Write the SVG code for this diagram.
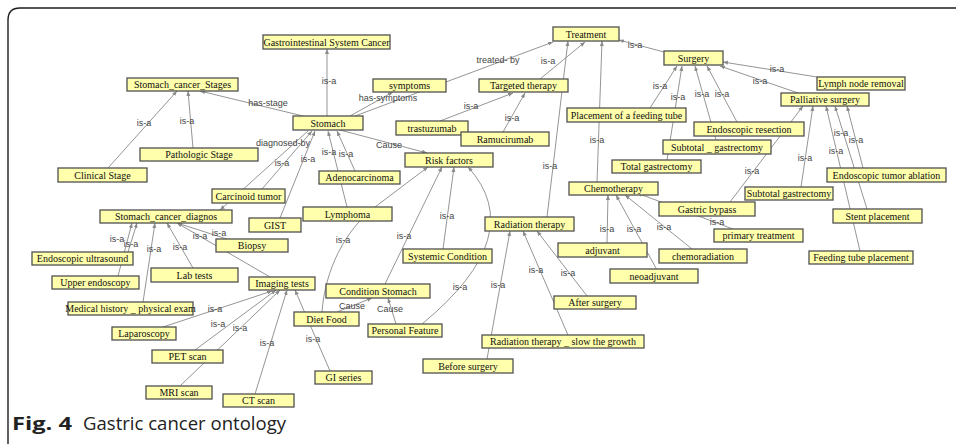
<svg xmlns="http://www.w3.org/2000/svg" width="956" height="444" viewBox="0 0 956 444">
  <defs>
    <marker id="arr" viewBox="0 0 10 10" refX="10" refY="5" markerWidth="5" markerHeight="5" markerUnits="userSpaceOnUse" orient="auto">
      <path d="M0,1 L10,5 L0,9 Z" fill="#8a8a8a"/>
    </marker>
    <style>
      .frame { fill: none; stroke: #1e1e1e; stroke-width: 1.4; }
      .e { fill: none; stroke: #959595; stroke-width: 1; marker-end: url(#arr); }
      .lbl { font-family: "Liberation Sans", Arial, sans-serif; font-size: 9px; fill: #444; text-anchor: middle; }
      .node rect { fill: #ffffac; stroke: #505050; stroke-width: 1.3; }
      .node text { font-family: "Liberation Serif", "Times New Roman", serif; font-size: 10px; fill: #111; text-anchor: middle; }
      .cap { font-family: "Open Sans", "Noto Sans", sans-serif; font-size: 18px; fill: #222; }
    </style>
  </defs>

  <!-- figure frame -->
  <path class="frame" d="M8,444 V20 Q8,8 20,8 H956"/>

  <!-- connectors -->
  <g id="connectors">
    <path class="e" d="M327,116 L327,49"/>
    <path class="e" d="M303,116 L200,91"/>
    <path class="e" d="M193,148 L188,91"/>
    <path class="e" d="M108,168 L177,91"/>
    <path class="e" d="M350,116 L393,92"/>
    <path class="e" d="M355,116 L553,42"/>
    <path class="e" d="M340,130 L427,153"/>
    <path class="e" d="M262,189 L312,131"/>
    <path class="e" d="M308,131 L220,210"/>
    <path class="e" d="M280,218 L315,131"/>
    <path class="e" d="M347,207 L328,131"/>
    <path class="e" d="M355,171 L337,131"/>
    <path class="e" d="M385,284 L442,167"/>
    <path class="e" d="M443,249 L454,167"/>
    <path class="e" d="M422,324 Q530,235 468,167"/>
    <path class="e" d="M322,312 C325,270 345,230 375,207 L428,167"/>
    <path class="e" d="M337,312 L372,298"/>
    <path class="e" d="M396,324 L388,298"/>
    <path class="e" d="M118,276 L132,223"/>
    <path class="e" d="M128,252 L137,223"/>
    <path class="e" d="M143,302 L155,223"/>
    <path class="e" d="M193,268 L167,223"/>
    <path class="e" d="M227,239 L177,223"/>
    <path class="e" d="M270,277 L177,223"/>
    <path class="e" d="M163,327 L272,291"/>
    <path class="e" d="M195,350 L276,290"/>
    <path class="e" d="M180,386 L280,290"/>
    <path class="e" d="M255,394 L287,290"/>
    <path class="e" d="M330,371 L295,290"/>
    <path class="e" d="M540,79 L585,42"/>
    <path class="e" d="M547,217 L568,41"/>
    <path class="e" d="M597,182 L602,41"/>
    <path class="e" d="M664,52 L619,40"/>
    <path class="e" d="M440,121 L513,93"/>
    <path class="e" d="M503,132 L525,93"/>
    <path class="e" d="M650,108 L677,66"/>
    <path class="e" d="M667,160 L682,66"/>
    <path class="e" d="M716,140 L695,66"/>
    <path class="e" d="M737,122 L707,66"/>
    <path class="e" d="M798,93 L720,66"/>
    <path class="e" d="M817,77 L723,62"/>
    <path class="e" d="M730,202 L803,106"/>
    <path class="e" d="M801,187 L813,106"/>
    <path class="e" d="M860,251 L826,106"/>
    <path class="e" d="M867,209 L835,106"/>
    <path class="e" d="M863,168 L847,106"/>
    <path class="e" d="M607,243 L608,195"/>
    <path class="e" d="M657,270 L616,195"/>
    <path class="e" d="M692,249 L625,195"/>
    <path class="e" d="M733,229 L637,193"/>
    <path class="e" d="M487,359 L510,231"/>
    <path class="e" d="M568,335 L523,231"/>
    <path class="e" d="M587,296 L537,231"/>

    <!-- connector labels -->
    <text class="lbl" x="329" y="84">is-a</text>
    <text class="lbl" x="268" y="106">has-stage</text>
    <text class="lbl" x="187" y="124">is-a</text>
    <text class="lbl" x="144" y="126">is-a</text>
    <text class="lbl" x="388" y="101">has-symptoms</text>
    <text class="lbl" x="498" y="63">treated- by</text>
    <text class="lbl" x="389" y="148">Cause</text>
    <text class="lbl" x="282" y="166">is-a</text>
    <text class="lbl" x="283" y="146">diagnosed-by</text>
    <text class="lbl" x="308" y="162">is-a</text>
    <text class="lbl" x="329" y="155">is-a</text>
    <text class="lbl" x="346" y="157">is-a</text>
    <text class="lbl" x="404" y="239">is-a</text>
    <text class="lbl" x="447" y="219">is-a</text>
    <text class="lbl" x="460" y="290">is-a</text>
    <text class="lbl" x="343" y="243">is-a</text>
    <text class="lbl" x="352" y="309">Cause</text>
    <text class="lbl" x="390" y="312">Cause</text>
    <text class="lbl" x="117" y="242">is-a</text>
    <text class="lbl" x="131" y="247">is-a</text>
    <text class="lbl" x="154" y="252">is-a</text>
    <text class="lbl" x="180" y="250">is-a</text>
    <text class="lbl" x="200" y="239">is-a</text>
    <text class="lbl" x="219" y="236">is-a</text>
    <text class="lbl" x="215" y="312">is-a</text>
    <text class="lbl" x="218" y="327">is-a</text>
    <text class="lbl" x="240" y="331">is-a</text>
    <text class="lbl" x="267" y="346">is-a</text>
    <text class="lbl" x="313" y="342">is-a</text>
    <text class="lbl" x="548" y="64">is-a</text>
    <text class="lbl" x="550" y="169">is-a</text>
    <text class="lbl" x="597" y="143">is-a</text>
    <text class="lbl" x="635" y="48">is-a</text>
    <text class="lbl" x="471" y="109">is-a</text>
    <text class="lbl" x="512" y="121">is-a</text>
    <text class="lbl" x="660" y="89">is-a</text>
    <text class="lbl" x="678" y="100">is-a</text>
    <text class="lbl" x="702" y="97">is-a</text>
    <text class="lbl" x="722" y="97">is-a</text>
    <text class="lbl" x="760" y="84">is-a</text>
    <text class="lbl" x="777" y="72">is-a</text>
    <text class="lbl" x="752" y="174">is-a</text>
    <text class="lbl" x="805" y="161">is-a</text>
    <text class="lbl" x="836" y="154">is-a</text>
    <text class="lbl" x="841" y="136">is-a</text>
    <text class="lbl" x="856" y="143">is-a</text>
    <text class="lbl" x="607" y="232">is-a</text>
    <text class="lbl" x="634" y="232">is-a</text>
    <text class="lbl" x="664" y="230">is-a</text>
    <text class="lbl" x="717" y="225">is-a</text>
    <text class="lbl" x="498" y="288">is-a</text>
    <text class="lbl" x="536" y="273">is-a</text>
    <text class="lbl" x="568" y="276">is-a</text>
  </g>

  <!-- concept nodes -->
  <g id="gi-system-cancer" class="node"><rect x="263" y="35" width="127" height="14"/><text x="326.5" y="45.5">Gastrointestinal System Cancer</text></g>
  <g id="stomach-cancer-stages" class="node"><rect x="127" y="78" width="111" height="13"/><text x="182.5" y="88">Stomach_cancer_Stages</text></g>
  <g id="pathologic-stage" class="node"><rect x="140" y="148" width="118" height="13"/><text x="199" y="158">Pathologic Stage</text></g>
  <g id="clinical-stage" class="node"><rect x="58" y="168" width="89" height="14"/><text x="102.5" y="178.5">Clinical Stage</text></g>
  <g id="stomach" class="node"><rect x="293" y="116" width="70" height="14"/><text x="328" y="126.5">Stomach</text></g>
  <g id="carcinoid-tumor" class="node"><rect x="212" y="189" width="73" height="14"/><text x="248.5" y="199.5">Carcinoid tumor</text></g>
  <g id="stomach-cancer-diagnos" class="node"><rect x="100" y="210" width="132" height="13"/><text x="166" y="220">Stomach_cancer_diagnos</text></g>
  <g id="gist" class="node"><rect x="249" y="218" width="52" height="14"/><text x="275" y="228.5">GIST</text></g>
  <g id="adenocarcinoma" class="node"><rect x="319" y="171" width="81" height="13"/><text x="359.5" y="181">Adenocarcinoma</text></g>
  <g id="lymphoma" class="node"><rect x="303" y="207" width="89" height="14"/><text x="347.5" y="217.5">Lymphoma</text></g>
  <g id="risk-factors" class="node"><rect x="405" y="153" width="88" height="14"/><text x="449" y="163.5">Risk factors</text></g>
  <g id="symptoms" class="node"><rect x="373" y="79" width="73" height="13"/><text x="409.5" y="89">symptoms</text></g>
  <g id="targeted-therapy" class="node"><rect x="479" y="79" width="89" height="13"/><text x="523.5" y="89">Targeted therapy</text></g>
  <g id="treatment" class="node"><rect x="553" y="27" width="66" height="14"/><text x="586" y="37.5">Treatment</text></g>
  <g id="trastuzumab" class="node"><rect x="396" y="121" width="72" height="14"/><text x="432" y="131.5">trastuzumab</text></g>
  <g id="ramucirumab" class="node"><rect x="461" y="132" width="88" height="14"/><text x="505" y="142.5">Ramucirumab</text></g>
  <g id="feeding-tube-placement-a" class="node"><rect x="567" y="108" width="119" height="14"/><text x="626.5" y="118.5">Placement of a feeding tube</text></g>
  <g id="chemotherapy" class="node"><rect x="569" y="182" width="89" height="13"/><text x="613.5" y="192">Chemotherapy</text></g>
  <g id="total-gastrectomy" class="node"><rect x="612" y="160" width="89" height="13"/><text x="656.5" y="170">Total gastrectomy</text></g>
  <g id="subtotal-gastrectomy-a" class="node"><rect x="663" y="140" width="108" height="14"/><text x="717" y="150.5">Subtotal _ gastrectomy</text></g>
  <g id="endoscopic-resection" class="node"><rect x="694" y="122" width="110" height="14"/><text x="749" y="132.5">Endoscopic resection</text></g>
  <g id="surgery" class="node"><rect x="664" y="51" width="59" height="14"/><text x="693.5" y="61.5">Surgery</text></g>
  <g id="lymph-node-removal" class="node"><rect x="817" y="77" width="88" height="13"/><text x="861" y="87">Lymph node removal</text></g>
  <g id="palliative-surgery" class="node"><rect x="781" y="93" width="88" height="13"/><text x="825" y="103">Palliative surgery</text></g>
  <g id="endoscopic-tumor-ablation" class="node"><rect x="827" y="168" width="119" height="14"/><text x="886.5" y="178.5">Endoscopic tumor ablation</text></g>
  <g id="subtotal-gastrectomy-b" class="node"><rect x="745" y="187" width="88" height="13"/><text x="789" y="197">Subtotal gastrectomy</text></g>
  <g id="gastric-bypass" class="node"><rect x="659" y="202" width="96" height="14"/><text x="707" y="212.5">Gastric bypass</text></g>
  <g id="stent-placement" class="node"><rect x="833" y="209" width="89" height="14"/><text x="877.5" y="219.5">Stent placement</text></g>
  <g id="primary-treatment" class="node"><rect x="714" y="229" width="89" height="13"/><text x="758.5" y="239">primary treatment</text></g>
  <g id="chemoradiation" class="node"><rect x="659" y="249" width="88" height="14"/><text x="703" y="259.5">chemoradiation</text></g>
  <g id="neoadjuvant" class="node"><rect x="610" y="269" width="88" height="14"/><text x="654" y="279.5">neoadjuvant</text></g>
  <g id="feeding-tube-placement-b" class="node"><rect x="809" y="251" width="104" height="13"/><text x="861" y="261">Feeding tube placement</text></g>
  <g id="adjuvant" class="node"><rect x="558" y="243" width="89" height="14"/><text x="602.5" y="253.5">adjuvant</text></g>
  <g id="radiation-therapy" class="node"><rect x="485" y="217" width="89" height="14"/><text x="529.5" y="227.5">Radiation therapy</text></g>
  <g id="systemic-condition" class="node"><rect x="403" y="249" width="89" height="14"/><text x="447.5" y="259.5">Systemic Condition</text></g>
  <g id="condition-stomach" class="node"><rect x="326" y="284" width="104" height="14"/><text x="378" y="294.5">Condition Stomach</text></g>
  <g id="personal-feature" class="node"><rect x="368" y="324" width="74" height="13"/><text x="405" y="334">Personal Feature</text></g>
  <g id="after-surgery" class="node"><rect x="554" y="296" width="82" height="13"/><text x="595" y="306">After surgery</text></g>
  <g id="radiation-slow-growth" class="node"><rect x="482" y="335" width="162" height="13"/><text x="563" y="345">Radiation therapy _ slow the growth</text></g>
  <g id="before-surgery" class="node"><rect x="423" y="359" width="90" height="14"/><text x="468" y="369.5">Before surgery</text></g>
  <g id="diet-food" class="node"><rect x="294" y="312" width="65" height="14"/><text x="326.5" y="322.5">Diet Food</text></g>
  <g id="gi-series" class="node"><rect x="315" y="371" width="57" height="13"/><text x="343.5" y="381">GI series</text></g>
  <g id="imaging-tests" class="node"><rect x="249" y="277" width="66" height="13"/><text x="282" y="287">Imaging tests</text></g>
  <g id="biopsy" class="node"><rect x="216" y="239" width="72" height="13"/><text x="252" y="249">Biopsy</text></g>
  <g id="lab-tests" class="node"><rect x="151" y="268" width="87" height="14"/><text x="194.5" y="278.5">Lab tests</text></g>
  <g id="endoscopic-ultrasound" class="node"><rect x="32" y="252" width="101" height="13"/><text x="82.5" y="262">Endoscopic ultrasound</text></g>
  <g id="upper-endoscopy" class="node"><rect x="52" y="276" width="87" height="13"/><text x="95.5" y="286">Upper endoscopy</text></g>
  <g id="medical-history" class="node"><rect x="68" y="302" width="125" height="13"/><text x="130.5" y="312">Medical history _ physical exam</text></g>
  <g id="laparoscopy" class="node"><rect x="112" y="327" width="64" height="13"/><text x="144" y="337">Laparoscopy</text></g>
  <g id="pet-scan" class="node"><rect x="152" y="350" width="71" height="13"/><text x="187.5" y="360">PET scan</text></g>
  <g id="mri-scan" class="node"><rect x="146" y="386" width="66" height="13"/><text x="179" y="396">MRI scan</text></g>
  <g id="ct-scan" class="node"><rect x="223" y="394" width="71" height="13"/><text x="258.5" y="404">CT scan</text></g>

  <!-- caption -->
  <text class="cap" x="12" y="430" font-weight="bold" textLength="60" lengthAdjust="spacingAndGlyphs">Fig. 4</text>
  <text class="cap" x="83" y="430" textLength="203" lengthAdjust="spacingAndGlyphs">Gastric cancer ontology</text>
</svg>
